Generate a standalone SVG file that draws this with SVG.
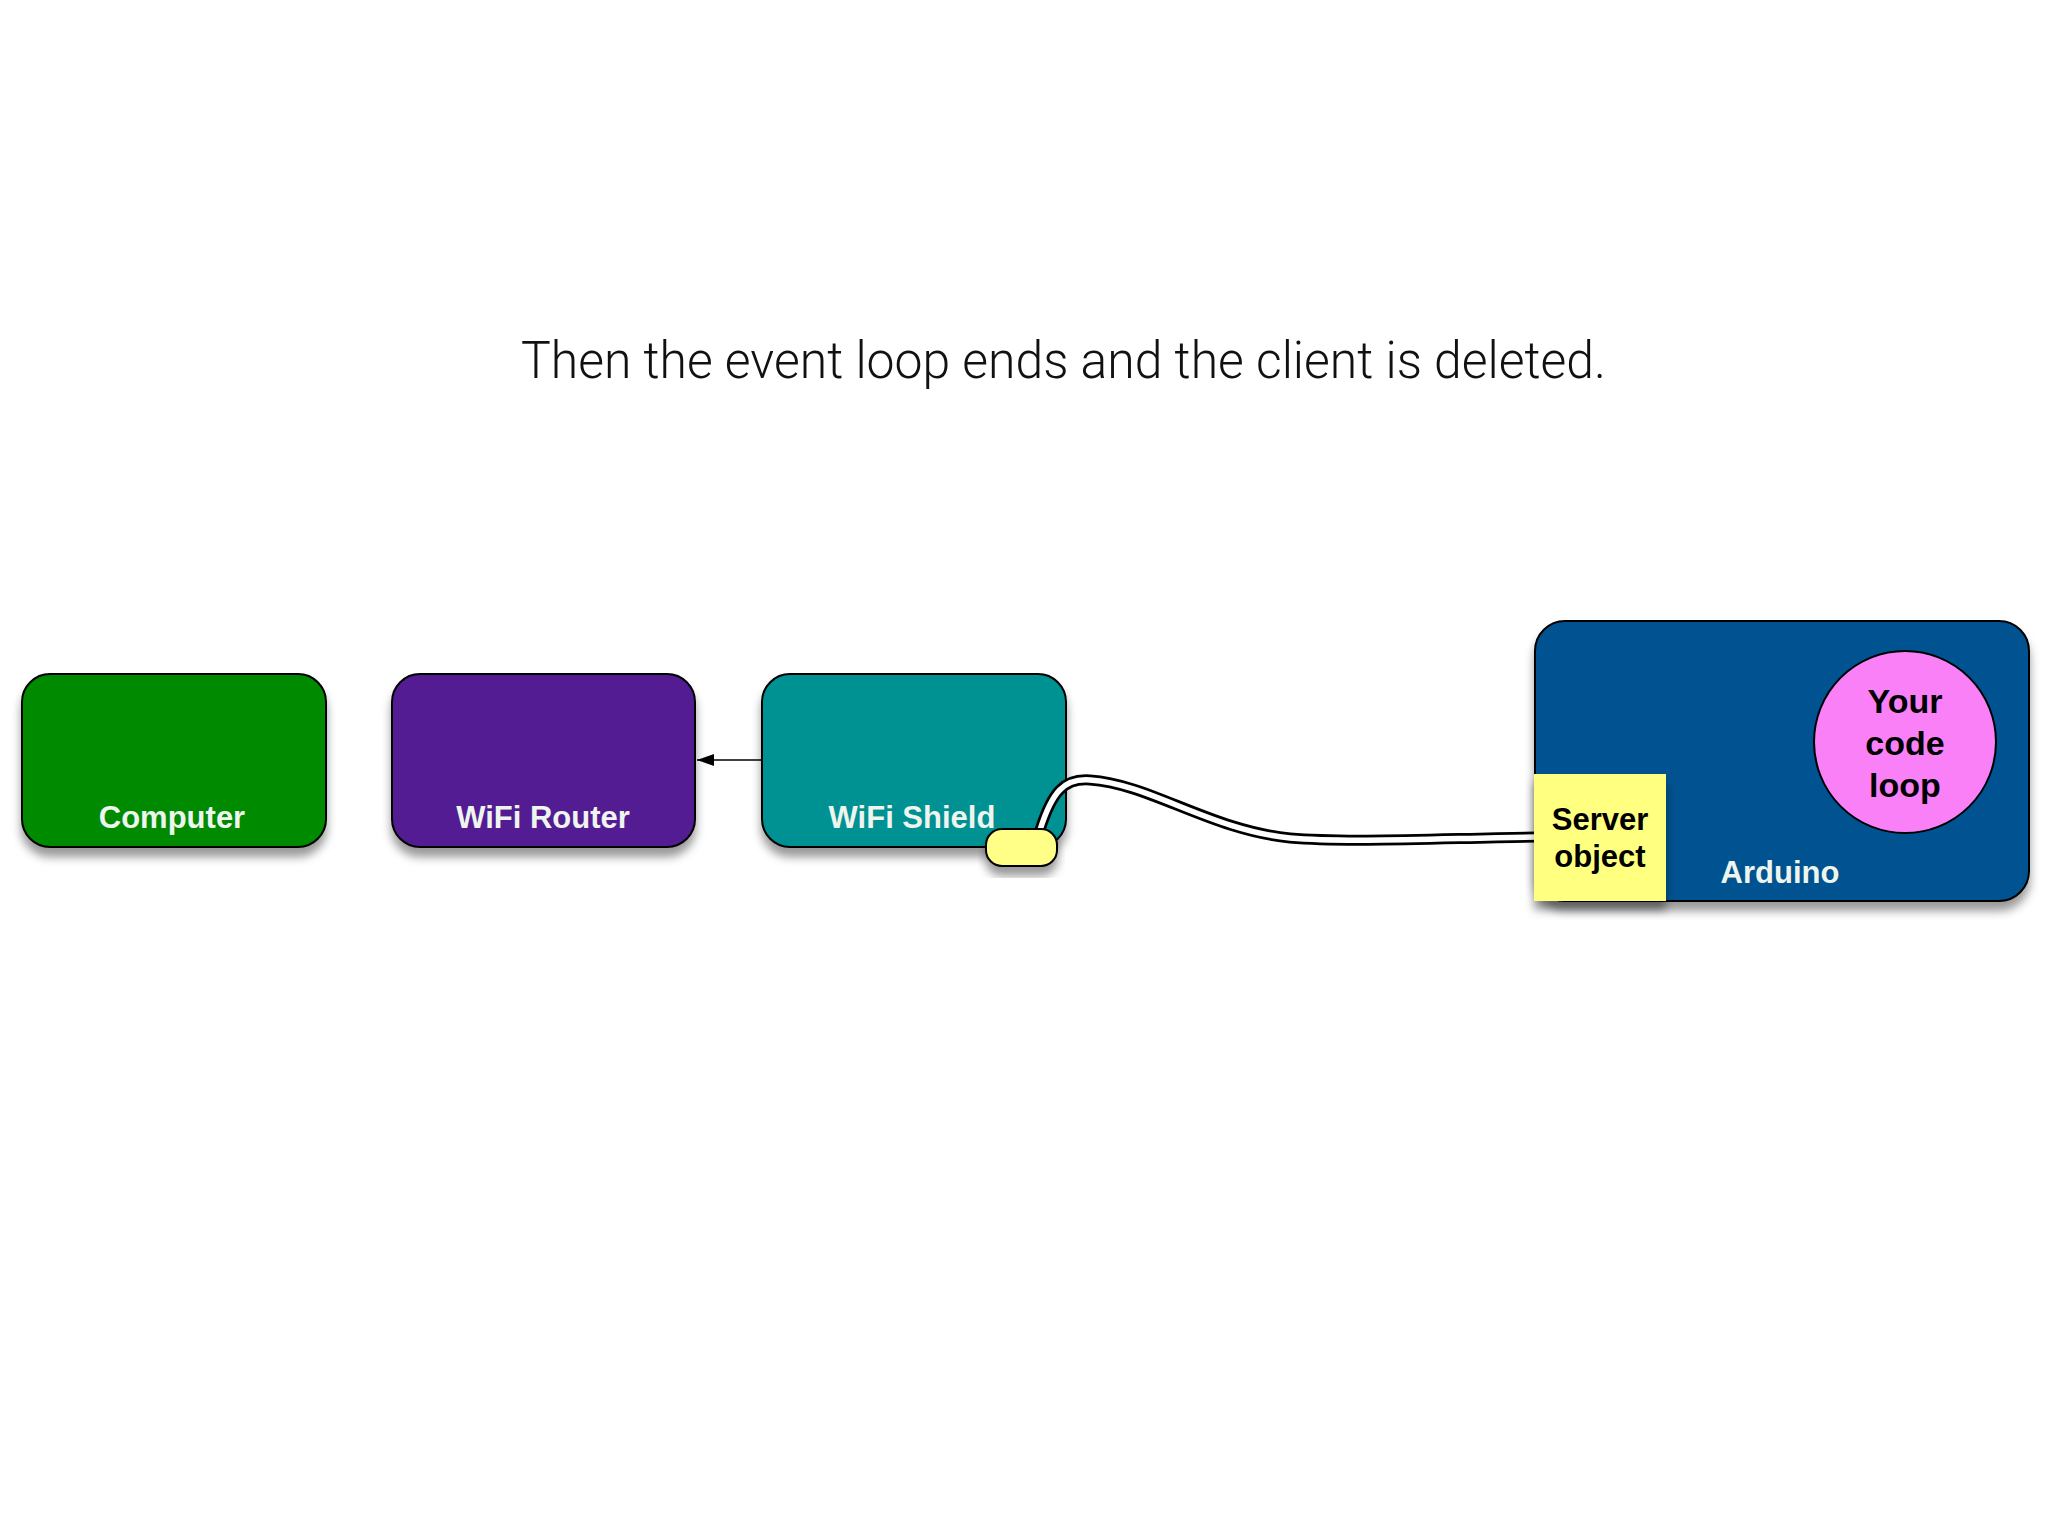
<svg xmlns="http://www.w3.org/2000/svg" width="2048" height="1536" viewBox="0 0 2048 1536">
<defs>
<style>
.box{stroke:#000;stroke-width:2}
.lbl{font-family:"Liberation Sans",Arial,sans-serif;font-weight:bold;font-size:31px;fill:#EEF4EE;text-anchor:middle}
.dark{font-family:"Liberation Sans",Arial,sans-serif;font-weight:bold;fill:#000;text-anchor:middle}
.title{font-family:Roboto,"Liberation Sans",sans-serif;font-weight:300;font-size:52px;fill:#111}
</style>
<filter id="sh" x="-10%" y="-10%" width="120%" height="140%">
<feDropShadow dx="0" dy="9" stdDeviation="5" flood-color="#000" flood-opacity="0.4"/>
</filter>
<marker id="ah" markerUnits="userSpaceOnUse" markerWidth="18" markerHeight="14" refX="17" refY="7" orient="auto">
<path d="M0,1 L17,7 L0,13 Z" fill="#000"/>
</marker>
</defs>
<rect width="2048" height="1536" fill="#fff"/>
<text class="title" x="521" y="378" textLength="1085" lengthAdjust="spacingAndGlyphs">Then the event loop ends and the client is deleted.</text>

<g id="computer">
<rect class="box" x="22" y="674" width="304" height="173" rx="28" fill="#058A06" filter="url(#sh)"/>
<text class="lbl" x="172" y="828">Computer</text>
</g>
<g id="wifi-router">
<rect class="box" x="392" y="674" width="303" height="173" rx="28" fill="#521B92" filter="url(#sh)"/>
<text class="lbl" x="543" y="828">WiFi Router</text>
</g>
<g id="wifi-shield">
<rect class="box" x="762" y="674" width="304" height="173" rx="28" fill="#039193" filter="url(#sh)"/>
<text class="lbl" x="912" y="828">WiFi Shield</text>
</g>
<g id="arduino">
<rect class="box" x="1535" y="621" width="494" height="280" rx="30" fill="#025390" filter="url(#sh)"/>
<text class="lbl" x="1780" y="883">Arduino</text>
</g>
<g id="code-loop">
<circle cx="1905" cy="742" r="91" fill="#FA80F8" stroke="#000" stroke-width="2"/>
<text class="dark" font-size="34" x="1905" y="713">Your</text>
<text class="dark" font-size="34" x="1905" y="755">code</text>
<text class="dark" font-size="34" x="1905" y="797">loop</text>
</g>

<g id="connectors">
<line x1="762" y1="760" x2="697" y2="760" stroke="#000" stroke-width="1.5" marker-end="url(#ah)"/>
<path d="M1040,830 C1052,792 1064,778 1090,780 C1150,784 1210,830 1290,838 C1350,843 1450,838 1536,837" fill="none" stroke="#000" stroke-width="11"/>
<path d="M1040,830 C1052,792 1064,778 1090,780 C1150,784 1210,830 1290,838 C1350,843 1450,838 1536,837" fill="none" stroke="#fff" stroke-width="5.5"/>
</g>

<g id="client-plug">
<rect x="986" y="829" width="71" height="37" rx="16" fill="#FFFF88" stroke="#000" stroke-width="2" filter="url(#sh)"/>
</g>
<g id="server-object">
<rect x="1534" y="774" width="132" height="127" fill="#FFFF80" filter="url(#sh)"/>
<text class="dark" font-size="31" x="1600" y="830">Server</text>
<text class="dark" font-size="31" x="1600" y="867">object</text>
</g>
</svg>
